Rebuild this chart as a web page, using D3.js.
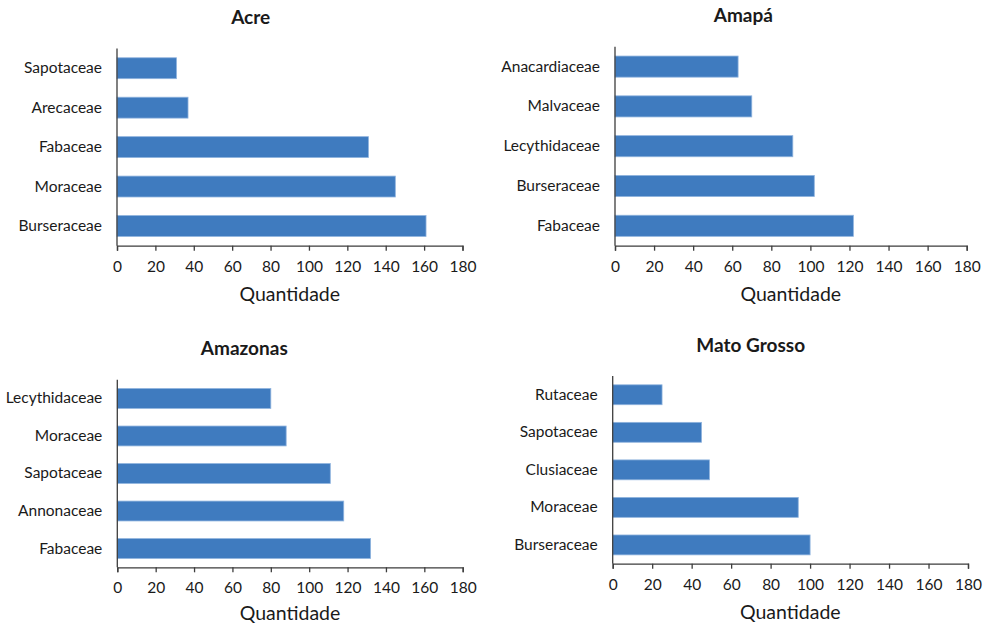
<!DOCTYPE html>
<html>
<head>
<meta charset="utf-8">
<script src="https://cdn.jsdelivr.net/npm/d3@7"></script>
<style>
  html, body { margin: 0; padding: 0; background: #ffffff; }
  svg { display: block; }
  text { font-family: Lato, "Open Sans", sans-serif; fill: #1a1a1a; }
</style>
</head>
<body>
<svg id="chart" width="988" height="624"></svg>
<script>
// Number of trees per botanical family, by state
const states = ["Acre", "Amapá", "Amazonas", "Mato Grosso"];

const acreFamilies = ["Sapotaceae", "Arecaceae", "Fabaceae", "Moraceae", "Burseraceae"];
const acreValues   = [31, 37, 131, 145, 161];

const amapaFamilies = ["Anacardiaceae", "Malvaceae", "Lecythidaceae", "Burseraceae", "Fabaceae"];
const amapaValues   = [63, 70, 91, 102, 122];

const amazonasFamilies = ["Lecythidaceae", "Moraceae", "Sapotaceae", "Annonaceae", "Fabaceae"];
const amazonasValues   = [80, 88, 111, 118, 132];

const matoGrossoFamilies = ["Rutaceae", "Sapotaceae", "Clusiaceae", "Moraceae", "Burseraceae"];
const matoGrossoValues   = [25, 45, 49, 94, 100];

const xTicks = [0, 20, 40, 60, 80, 100, 120, 140, 160, 180];
const xLabel = "Quantidade";

const panelData = [
  { title: states[0], families: acreFamilies, values: acreValues },
  { title: states[1], families: amapaFamilies, values: amapaValues },
  { title: states[2], families: amazonasFamilies, values: amazonasValues },
  { title: states[3], families: matoGrossoFamilies, values: matoGrossoValues }
];

// Plot-area frame of each small chart
const frames = [
  { left: 117,   right: 462.5, top: 48.5,  bottom: 245.7, titleX: 250.7, titleY: 24,  labelY: 301 },
  { left: 615,   right: 966.7, top: 46.7,  bottom: 245.7, titleX: 743.3, titleY: 22,  labelY: 301 },
  { left: 117.3, right: 462.7, top: 379.7, bottom: 567.3, titleX: 244.3, titleY: 355, labelY: 620 },
  { left: 612.7, right: 968,   top: 376,   bottom: 563.7, titleX: 750.7, titleY: 352, labelY: 619 }
];

const BAR_FILL = "#3f7bbf";
const BAR_EDGE = "#8fb3de";
const AXIS = "#3d3d3d";

const svg = d3.select("#chart");

panelData.forEach((p, i) => {
  const f = frames[i];
  const g = svg.append("g");

  const x = d3.scaleLinear().domain([0, 180]).range([f.left, f.right]);
  const y = d3.scaleBand()
    .domain(p.families)
    .range([f.top, f.bottom])
    .paddingInner(0.47)
    .paddingOuter(0.235);

  // bars
  g.selectAll("rect.bar")
    .data(p.families.map((fam, k) => ({ fam, v: p.values[k] })))
    .join("rect")
    .attr("class", "bar")
    .attr("x", x(0))
    .attr("y", d => y(d.fam))
    .attr("width", d => x(d.v) - x(0))
    .attr("height", y.bandwidth())
    .attr("fill", BAR_FILL)
    .attr("stroke", BAR_EDGE)
    .attr("stroke-width", 0.8);

  // x axis
  const xAxis = d3.axisBottom(x)
    .tickValues(xTicks)
    .tickSize(5)
    .tickSizeOuter(5)
    .tickPadding(10)
    .tickFormat(d3.format("d"));
  const gx = g.append("g")
    .attr("transform", `translate(0,${f.bottom})`)
    .call(xAxis);
  gx.select(".domain").attr("stroke", AXIS).attr("stroke-width", 1.3);
  gx.selectAll(".tick line").attr("stroke", AXIS).attr("stroke-width", 1.3);
  gx.selectAll(".tick text")
    .attr("font-family", "Lato, sans-serif")
    .attr("font-size", 15.5)
    .attr("fill", "#1a1a1a");

  // y axis: plain line with category labels
  const yAxis = d3.axisLeft(y).tickSize(0).tickPadding(15);
  const gy = g.append("g")
    .attr("transform", `translate(${f.left},0)`)
    .call(yAxis);
  gy.select(".domain")
    .attr("d", `M0,${f.top}V${f.bottom}`)
    .attr("stroke", AXIS).attr("stroke-width", 1.3);
  gy.selectAll(".tick text")
    .attr("font-family", "Lato, sans-serif")
    .attr("font-size", 15.5)
    .attr("fill", "#1a1a1a");

  // title
  g.append("text")
    .attr("x", f.titleX)
    .attr("y", f.titleY)
    .attr("text-anchor", "middle")
    .attr("font-size", 19)
    .attr("font-weight", "bold")
    .text(p.title);

  // axis title
  g.append("text")
    .attr("x", (f.left + f.right) / 2)
    .attr("y", f.labelY)
    .attr("text-anchor", "middle")
    .attr("font-size", 19.5)
    .text(xLabel);
});
</script>
</body>
</html>
